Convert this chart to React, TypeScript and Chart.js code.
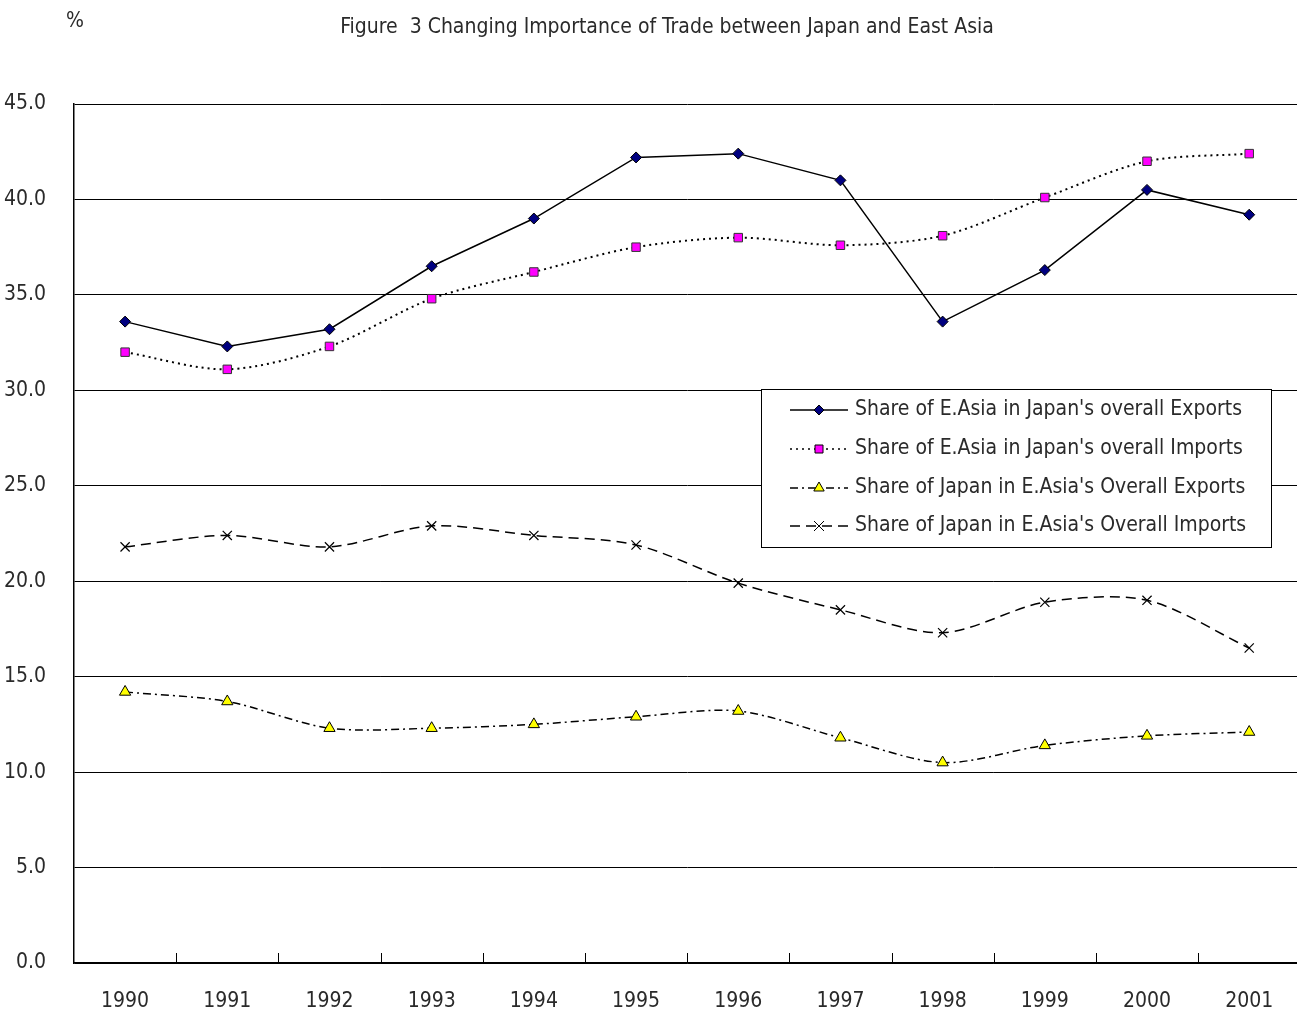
import React, { useEffect, useRef } from 'react';
import { Chart, registerables } from 'chart.js';

Chart.register(...registerables);

const years = ['1990', '1991', '1992', '1993', '1994', '1995', '1996', '1997', '1998', '1999', '2000', '2001'];
const exportsShare = [33.6, 32.3, 33.2, 36.5, 39.0, 42.2, 42.4, 41.0, 33.6, 36.3, 40.5, 39.2];
const importsShare = [32.0, 31.1, 32.3, 34.8, 36.2, 37.5, 38.0, 37.6, 38.1, 40.1, 42.0, 42.4];
const japanExportsShare = [14.2, 13.7, 12.3, 12.3, 12.5, 12.9, 13.2, 11.8, 10.5, 11.4, 11.9, 12.1];
const japanImportsShare = [21.8, 22.4, 21.8, 22.9, 22.4, 21.9, 19.9, 18.5, 17.3, 18.9, 19.0, 16.5];
const seriesLabels = [
  "Share of E.Asia in Japan's overall Exports",
  "Share of E.Asia in Japan's overall Imports",
  "Share of Japan in E.Asia's Overall Exports",
  "Share of Japan in E.Asia's Overall Imports",
];
const titleText = 'Figure  3 Changing Importance of Trade between Japan and East Asia';
const unitText = '%';

const FONT = '"Liberation Sans Narrow", "DejaVu Sans Condensed", "Liberation Sans", sans-serif';
const TEXT_COLOR = '#2a2a2a';
const FONT_SIZE = 21;

function drawMarker(ctx: CanvasRenderingContext2D, style: string, x: number, y: number, fill: string) {
  ctx.save();
  ctx.lineWidth = 1;
  ctx.strokeStyle = '#000';
  ctx.fillStyle = fill;
  ctx.beginPath();
  if (style === 'rectRot') {
    const r = 5;
    ctx.moveTo(x, y - r);
    ctx.lineTo(x + r, y);
    ctx.lineTo(x, y + r);
    ctx.lineTo(x - r, y);
    ctx.closePath();
    ctx.fill();
    ctx.stroke();
  } else if (style === 'rect') {
    const s = 4;
    ctx.rect(x - s, y - s, 2 * s, 2 * s);
    ctx.fill();
    ctx.stroke();
  } else if (style === 'triangle') {
    const r = 6;
    ctx.moveTo(x, y - r);
    ctx.lineTo(x + r * 0.866, y + r / 2);
    ctx.lineTo(x - r * 0.866, y + r / 2);
    ctx.closePath();
    ctx.fill();
    ctx.stroke();
  } else {
    const r = 5;
    ctx.moveTo(x - r, y - r);
    ctx.lineTo(x + r, y + r);
    ctx.moveTo(x + r, y - r);
    ctx.lineTo(x - r, y + r);
    ctx.stroke();
  }
  ctx.restore();
}

const decorPlugin = {
  id: 'decor',
  afterDraw(chart: any) {
    const ctx: CanvasRenderingContext2D = chart.ctx;
    const { chartArea } = chart;
    const xScale = chart.scales.x;
    ctx.save();
    ctx.fillStyle = TEXT_COLOR;
    ctx.font = `${FONT_SIZE}px ${FONT}`;
    ctx.textAlign = 'center';
    ctx.textBaseline = 'middle';
    ctx.fillText(titleText, 667, 28);
    ctx.textAlign = 'left';
    ctx.fillText(unitText, 66, 22);

    ctx.strokeStyle = '#000';
    ctx.lineWidth = 1;
    const n = years.length;
    for (let i = 1; i < n; i++) {
      const x = Math.round((xScale.getPixelForValue(i - 1) + xScale.getPixelForValue(i)) / 2) + 0.5;
      ctx.beginPath();
      ctx.moveTo(x, chartArea.bottom);
      ctx.lineTo(x, chartArea.bottom - 10);
      ctx.stroke();
    }

    const bx = 761.5, by = 389.5, bw = 510, bh = 158;
    ctx.fillStyle = '#fff';
    ctx.fillRect(bx, by, bw, bh);
    ctx.strokeStyle = '#000';
    ctx.lineWidth = 1;
    ctx.strokeRect(bx, by, bw, bh);
    const rows = [410, 449, 488, 526];
    chart.data.datasets.forEach((ds: any, i: number) => {
      const y = rows[i];
      ctx.save();
      ctx.strokeStyle = '#000';
      ctx.lineWidth = 1.5;
      ctx.setLineDash(ds.borderDash || []);
      ctx.beginPath();
      ctx.moveTo(790, y);
      ctx.lineTo(848, y);
      ctx.stroke();
      ctx.restore();
      drawMarker(ctx, ds.pointStyle, 819, y, ds.pointBackgroundColor);
      ctx.fillStyle = TEXT_COLOR;
      ctx.font = `${FONT_SIZE}px ${FONT}`;
      ctx.textAlign = 'left';
      ctx.textBaseline = 'middle';
      ctx.fillText(ds.label, 855, y);
    });
    ctx.restore();
  },
};

export default function App() {
  const ref = useRef<HTMLCanvasElement | null>(null);

  useEffect(() => {
    document.body.style.margin = '0';
    document.body.style.overflow = 'hidden';
    const canvas = ref.current;
    if (!canvas) return;
    const chart = new Chart(canvas, {
      type: 'line',
      data: {
        labels: years,
        datasets: [
          {
            label: seriesLabels[0],
            data: exportsShare,
            borderColor: '#000',
            borderWidth: 1.5,
            tension: 0,
            pointStyle: 'rectRot',
            pointRadius: 5.5,
            pointBackgroundColor: '#000080',
            pointBorderColor: '#000',
            pointBorderWidth: 1,
          },
          {
            label: seriesLabels[1],
            data: importsShare,
            borderColor: '#000',
            borderWidth: 2,
            borderDash: [2, 4],
            tension: 0.3,
            pointStyle: 'rect',
            pointRadius: 6,
            pointBackgroundColor: '#ff00ff',
            pointBorderColor: '#333',
            pointBorderWidth: 1,
          },
          {
            label: seriesLabels[2],
            data: japanExportsShare,
            borderColor: '#000',
            borderWidth: 1.5,
            borderDash: [8, 4, 2, 4],
            tension: 0.3,
            pointStyle: 'triangle',
            pointRadius: 6.5,
            pointBackgroundColor: '#ffff00',
            pointBorderColor: '#000',
            pointBorderWidth: 1,
          },
          {
            label: seriesLabels[3],
            data: japanImportsShare,
            borderColor: '#000',
            borderWidth: 1.5,
            borderDash: [10, 6],
            tension: 0.3,
            pointStyle: 'crossRot',
            pointRadius: 6.5,
            pointBackgroundColor: '#000',
            pointBorderColor: '#000',
            pointBorderWidth: 1.2,
          },
        ],
      },
      options: {
        animation: false,
        responsive: false,
        maintainAspectRatio: false,
        layout: { padding: { top: 104, right: 0, bottom: 0, left: 0 } },
        plugins: {
          legend: { display: false },
          title: { display: false },
          tooltip: { enabled: false },
        },
        scales: {
          x: {
            type: 'category',
            offset: true,
            grid: { display: false, drawTicks: false },
            border: { display: true, color: '#000', width: 1.5 },
            ticks: {
              color: TEXT_COLOR,
              font: { family: FONT, size: FONT_SIZE },
              padding: 26,
              maxRotation: 0,
              autoSkip: false,
            },
            afterFit: (scale: any) => {
              scale.height = 52;
            },
          },
          y: {
            min: 0,
            max: 45,
            grid: { color: '#000', lineWidth: 1, drawTicks: false },
            border: { display: true, color: '#000', width: 1.5 },
            ticks: {
              stepSize: 5,
              color: TEXT_COLOR,
              font: { family: FONT, size: FONT_SIZE },
              padding: 28,
              callback: (v: any) => Number(v).toFixed(1),
            },
            afterFit: (scale: any) => {
              scale.width = 74;
            },
          },
        },
      },
      plugins: [decorPlugin],
    });
    return () => chart.destroy();
  }, []);

  return (
    <div style={{ position: 'fixed', left: 0, top: 0, width: 1297, height: 1015, overflow: 'hidden', background: '#fff' }}>
      <canvas ref={ref} width={1308} height={1015} style={{ width: 1308, height: 1015, display: 'block' }} />
    </div>
  );
}
